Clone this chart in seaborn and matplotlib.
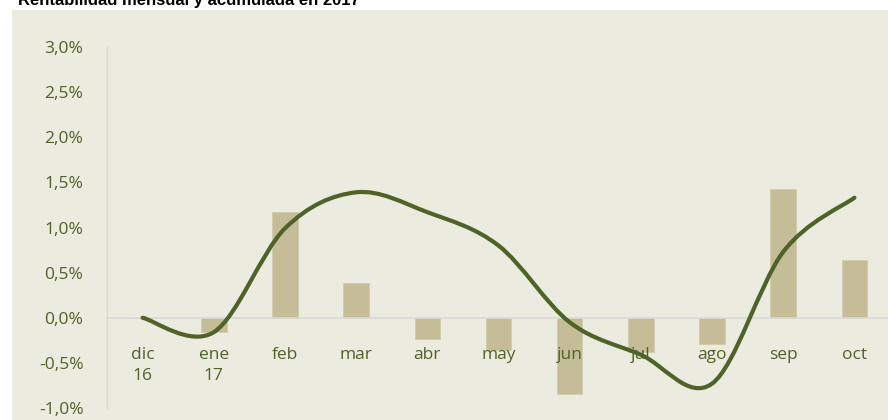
import matplotlib
matplotlib.use("Agg")
import matplotlib.pyplot as plt
from matplotlib.path import Path
from matplotlib.patches import PathPatch
import seaborn as sns
import pandas as pd
import numpy as np

months = ["dic\n16", "ene\n17", "feb", "mar", "abr", "may", "jun", "jul", "ago", "sep", "oct"]
monthly = [0.0, -0.16, 1.17, 0.39, -0.23, -0.36, -0.84, -0.38, -0.29, 1.43, 0.64]
cumulative = [0.0, -0.16, 0.99, 1.39, 1.17, 0.80, -0.05, -0.41, -0.73, 0.73, 1.33]
yticks = [-1.0, -0.5, 0.0, 0.5, 1.0, 1.5, 2.0, 2.5, 3.0]
title = "Rentabilidad mensual y acumulada en 2017"

BG = "#EBEBE0"
BAR = "#C4BD97"
LINE = "#4F6228"
TXT = "#4F6228"
GRID = "#D9D9D9"

sns.set_theme(style="white")
plt.rcParams['font.family'] = ['Open Sans', 'DejaVu Sans']

W, H = 888, 420
fig = plt.figure(figsize=(W / 100, H / 100), dpi=100)
fig.patch.set_facecolor("white")

bg = fig.add_axes([12 / W, 0, 1 - 12 / W, 1 - 10 / H], zorder=-10)
bg.set_facecolor(BG)
bg.set_xticks([])
bg.set_yticks([])
for s in bg.spines.values():
    s.set_visible(False)

ax = fig.add_axes([107 / W, 1 - 408 / H, 783 / W, (408 - 47) / H], zorder=1)
ax.set_facecolor("none")

df = pd.DataFrame({"mes": months, "mensual": monthly})
sns.barplot(data=df, x="mes", y="mensual", color=BAR, width=0.36,
            saturation=1, ax=ax, edgecolor="#D2CCAE", linewidth=0.6)
for p in ax.patches:
    p.set_zorder(0.8)

# Smoothed line (Excel-style Bezier through the data points)
xs = np.arange(len(cumulative), dtype=float)
ys = np.array(cumulative, dtype=float)
n = len(xs)
verts = [(xs[0], ys[0])]
codes = [Path.MOVETO]
for i in range(n - 1):
    p0 = np.array([xs[max(i - 1, 0)], ys[max(i - 1, 0)]])
    p1 = np.array([xs[i], ys[i]])
    p2 = np.array([xs[i + 1], ys[i + 1]])
    p3 = np.array([xs[min(i + 2, n - 1)], ys[min(i + 2, n - 1)]])
    c1 = p1 + (p2 - p0) / 6.0
    c2 = p2 - (p3 - p1) / 6.0
    verts += [tuple(c1), tuple(c2), tuple(p2)]
    codes += [Path.CURVE4] * 3
ax.add_patch(PathPatch(Path(verts, codes), facecolor="none", edgecolor=LINE,
                       linewidth=3.0, capstyle="round", joinstyle="round", zorder=5))

ax.set_xlim(-0.5, 10.5)
ax.set_ylim(-1.0, 3.0)
ax.set_yticks(yticks)
ax.set_yticklabels([f"{v:.1f}%".replace(".", ",") for v in yticks])
ax.set_xlabel("")
ax.set_ylabel("")
ax.set_axisbelow(False)
ax.xaxis.set_zorder(3)
ax.yaxis.set_zorder(3)

for s in ["top", "right"]:
    ax.spines[s].set_visible(False)
ax.spines["left"].set_color(GRID)
ax.spines["left"].set_linewidth(1.0)
ax.spines["bottom"].set_position(("data", 0))
ax.spines["bottom"].set_color(GRID)
ax.spines["bottom"].set_linewidth(1.2)
ax.spines["bottom"].set_zorder(2)

ax.tick_params(axis="y", length=0, pad=17, labelsize=12.5, labelcolor=TXT)
ax.tick_params(axis="x", length=0, pad=21, labelsize=12.5, labelcolor=TXT)
for lab in ax.get_xticklabels():
    lab.set_linespacing(1.45)
    lab.set_verticalalignment("top")

fig.text(18 / W, 1 - 5 / H, title, fontsize=12, fontweight="bold",
         color="black", family=["Liberation Sans", "DejaVu Sans"],
         ha="left", va="baseline")

fig.savefig("out.png", dpi=100, facecolor="white")
